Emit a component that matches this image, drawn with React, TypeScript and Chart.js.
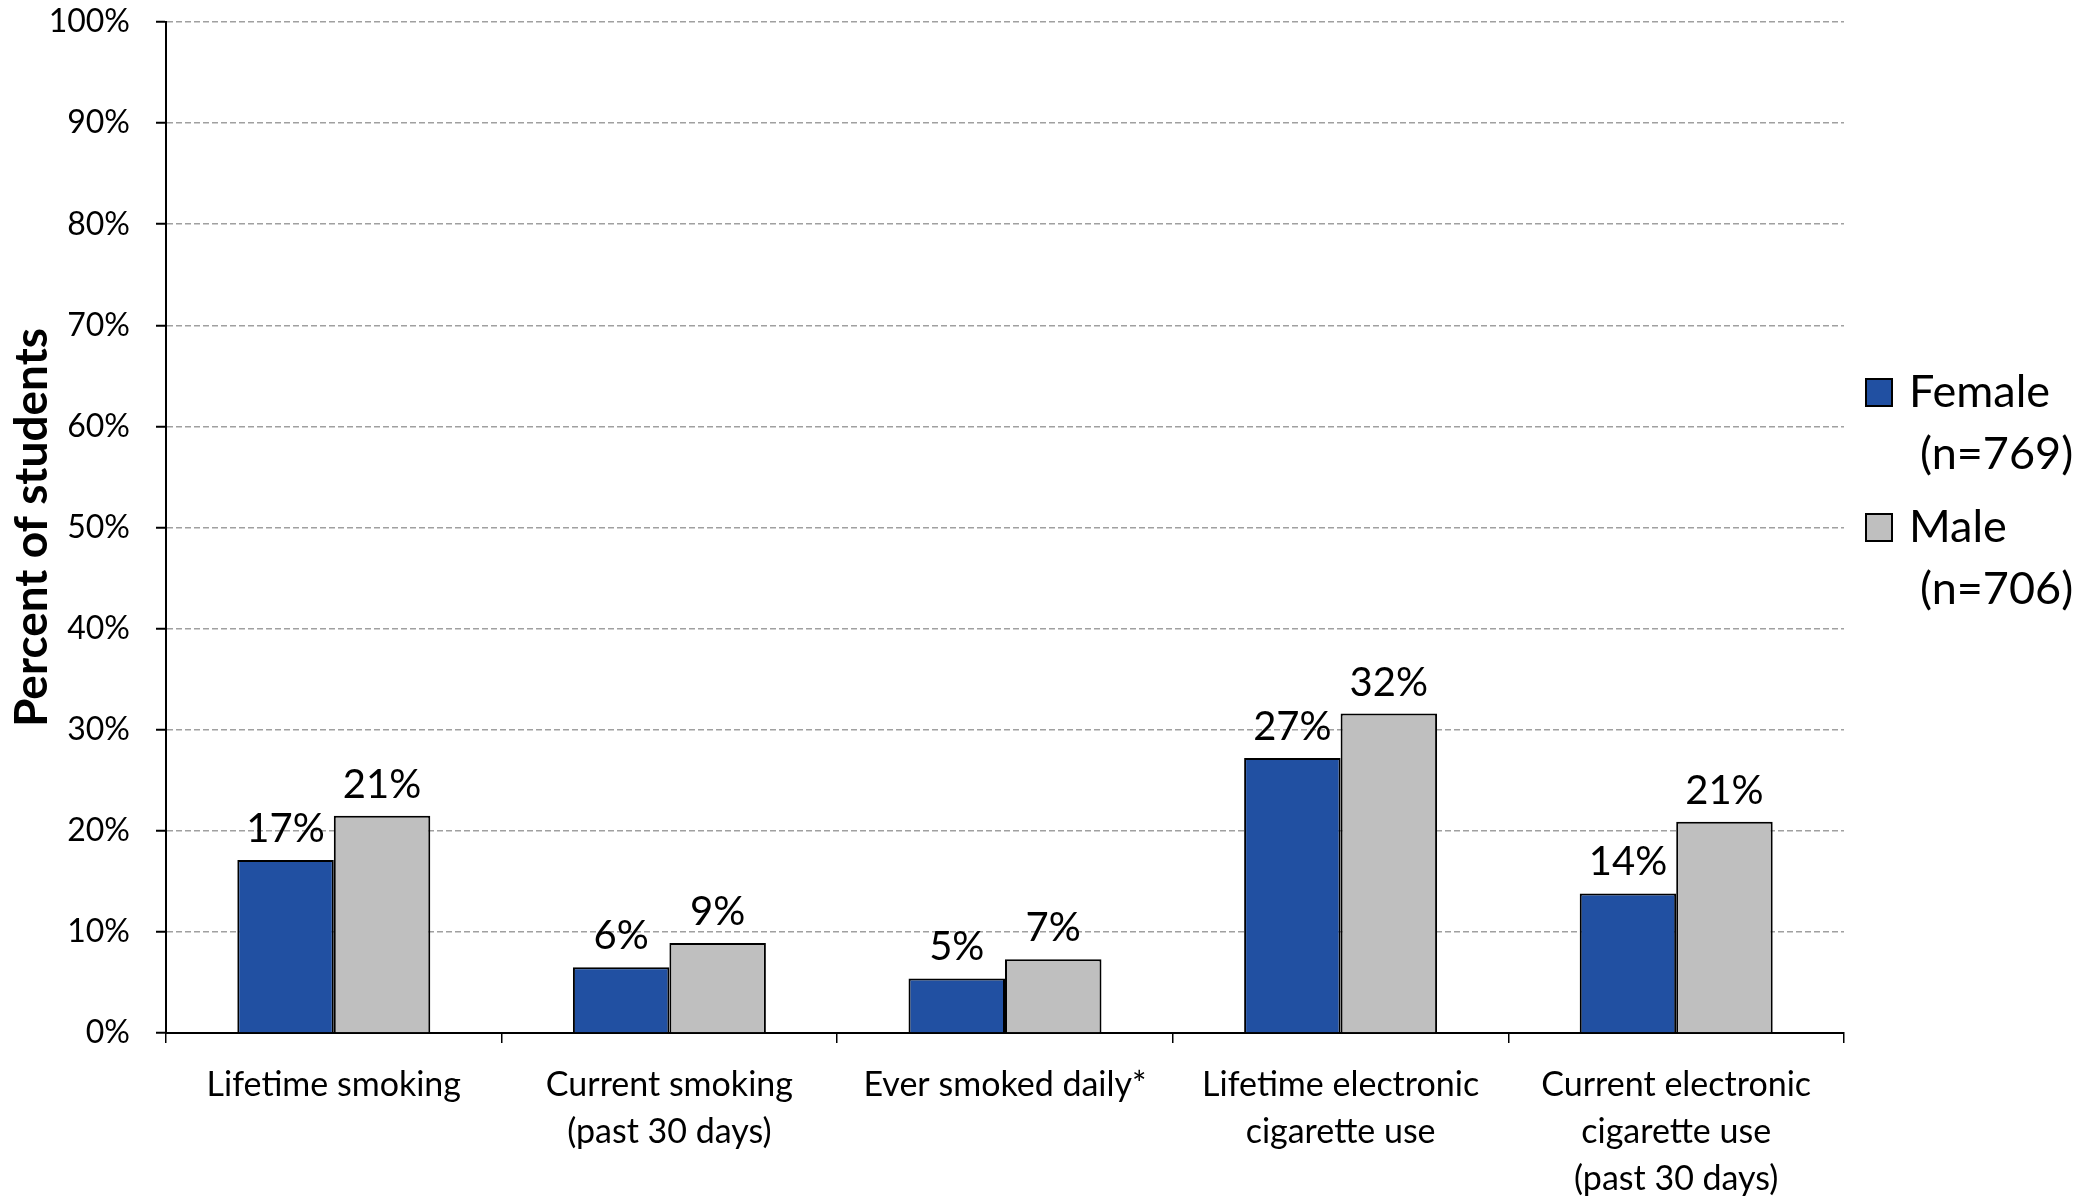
import { useEffect, useRef } from "react";
import { Chart, registerables } from "chart.js";

Chart.register(...registerables);

const categories: string[][] = [
  ["Lifetime smoking"],
  ["Current smoking", "(past 30 days)"],
  ["Ever smoked daily*"],
  ["Lifetime electronic", "cigarette use"],
  ["Current electronic", "cigarette use", "(past 30 days)"],
];
const femaleValues = [17.1, 6.5, 5.4, 27.2, 13.8];
const maleValues = [21.5, 8.9, 7.3, 31.6, 20.9];
const femaleLabels = ["17%", "6%", "5%", "27%", "14%"];
const maleLabels = ["21%", "9%", "7%", "32%", "21%"];
const seriesNames = ["Female (n=769)", "Male (n=706)"];
const legendLines = [
  ["Female", "(n=769)"],
  ["Male", "(n=706)"],
];
const yTickStep = 10;
const yMin = 0;
const yMax = 100;
const yTitle = "Percent of students";

const FONT = "Lato";
const FEMALE_COLOR = "#2150A2";
const MALE_COLOR = "#BFBFBF";

const valueLabelPlugin = {
  id: "valueLabels",
  afterDatasetsDraw(chart: any) {
    const { ctx } = chart;
    const labelSets = [femaleLabels, maleLabels];
    ctx.save();
    ctx.font = `40px ${FONT}`;
    ctx.fillStyle = "#000";
    ctx.textAlign = "center";
    ctx.textBaseline = "alphabetic";
    chart.data.datasets.forEach((_ds: any, di: number) => {
      const meta = chart.getDatasetMeta(di);
      meta.data.forEach((bar: any, i: number) => {
        ctx.fillText(labelSets[di][i], bar.x, bar.y - 18);
      });
    });
    ctx.restore();
  },
};

const sideLegendPlugin = {
  id: "sideLegend",
  afterDraw(chart: any) {
    const { ctx, chartArea } = chart;
    const x0 = chartArea.right + 22;
    const top = chartArea.top + 370;
    ctx.save();
    ctx.font = `45px ${FONT}`;
    ctx.textBaseline = "middle";
    ctx.textAlign = "left";
    legendLines.forEach((lines, i) => {
      const ds = chart.data.datasets[i];
      const cy = top + i * 135;
      ctx.fillStyle = ds.backgroundColor;
      ctx.fillRect(x0, cy - 13, 26, 27);
      ctx.strokeStyle = "#000";
      ctx.lineWidth = 2;
      ctx.strokeRect(x0, cy - 13, 26, 27);
      ctx.fillStyle = "#000";
      lines.forEach((ln, j) => {
        ctx.fillText(ln, x0 + 43 + (j > 0 ? 11 : 0), cy + j * 62);
      });
    });
    ctx.restore();
  },
};

export default function App() {
  const ref = useRef<HTMLCanvasElement>(null);

  useEffect(() => {
    const canvas = ref.current!;
    const chart = new Chart(canvas, {
      type: "bar",
      data: {
        labels: categories,
        datasets: [
          {
            label: seriesNames[0],
            data: femaleValues,
            backgroundColor: FEMALE_COLOR,
            borderColor: "#000",
            borderWidth: 2,
            categoryPercentage: 0.575,
            barPercentage: 1,
          },
          {
            label: seriesNames[1],
            data: maleValues,
            backgroundColor: MALE_COLOR,
            borderColor: "#000",
            borderWidth: 2,
            categoryPercentage: 0.575,
            barPercentage: 1,
          },
        ],
      },
      options: {
        responsive: false,
        animation: false,
        layout: { padding: { top: 0, right: 235, bottom: 0, left: 0 } },
        plugins: {
          legend: { display: false },
          tooltip: { enabled: false },
          title: { display: false },
        },
        scales: {
          x: {
            offset: true,
            grid: {
              display: true,
              offset: true,
              drawOnChartArea: false,
              drawTicks: true,
              tickLength: 10,
              color: "#000",
              tickColor: "#000",
              lineWidth: 1.5,
            },
            border: { display: true, color: "#000", width: 2 },
            ticks: {
              font: { family: FONT, size: 34, lineHeight: 1.38 },
              color: "#000",
              padding: 19,
              maxRotation: 0,
              autoSkip: false,
            },
            afterFit: (scale: any) => {
              scale.height = 163;
            },
          },
          y: {
            min: yMin,
            max: yMax,
            ticks: {
              stepSize: yTickStep,
              callback: (v: any) => `${v}%`,
              font: { family: FONT, size: 32 },
              color: "#000",
              padding: 26,
            },
            grid: {
              color: (ctx: any) =>
                ctx.tick && ctx.tick.value === 0 ? "rgba(0,0,0,0)" : "#A0A0A0",
              lineWidth: 1.5,
              drawTicks: true,
              tickLength: 10,
              tickColor: "#000",
              tickWidth: 2,
              tickBorderDash: [],
            },
            border: { display: true, color: "#000", width: 2, dash: [6, 3] },
            title: {
              display: true,
              text: yTitle,
              font: { family: FONT, size: 46, weight: "bold" },
              color: "#000",
              padding: { top: 5, bottom: 0 },
            },
            afterFit: (scale: any) => {
              scale.width = 166;
              scale.paddingTop = 22;
              scale.paddingBottom = 0;
            },
          },
        },
      },
      plugins: [valueLabelPlugin, sideLegendPlugin],
    });
    return () => chart.destroy();
  }, []);

  return (
    <div style={{ position: "absolute", left: 0, top: 0, width: 2079, height: 1196, background: "#fff" }}>
      <canvas ref={ref} width={2079} height={1196} style={{ display: "block" }} />
    </div>
  );
}
